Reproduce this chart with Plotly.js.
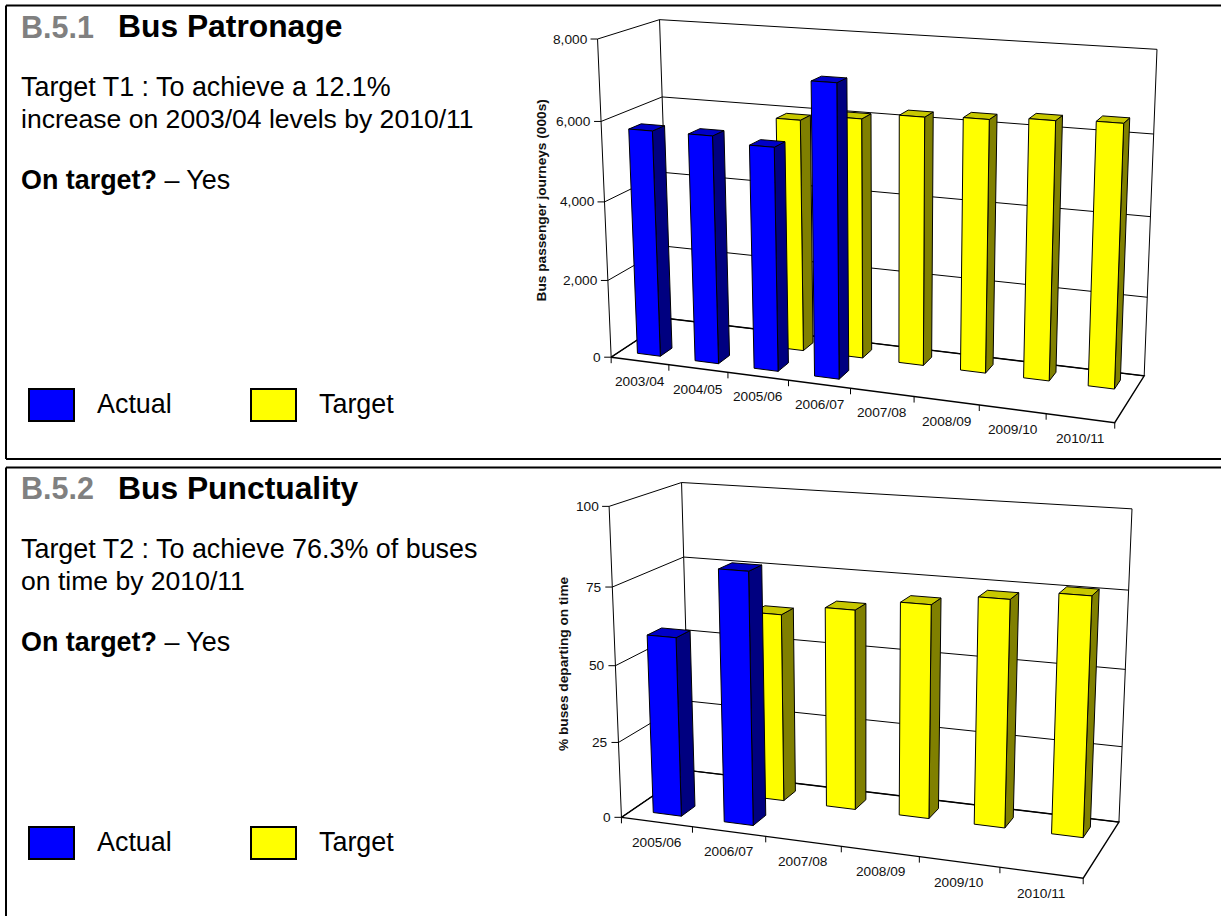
<!DOCTYPE html>
<html>
<head>
<meta charset="utf-8">
<script src="https://cdn.plot.ly/plotly-3.0.1.min.js"></script>
<style>html,body{margin:0;padding:0;background:#fff;overflow:hidden}#chart{width:1221px;height:916px}</style>
</head>
<body>
<div id="chart"></div>
<script>
// Bus patronage (thousand journeys)
const patronageYears = ['2003/04','2004/05','2005/06','2006/07','2007/08','2008/09','2009/10','2010/11'];
const patronageActual = [5750, 5750, 5600, 7250, null, null, null, null];
const patronageTarget = [null, null, 5930, 6080, 6240, 6300, 6390, 6446];
const patronageTicks = [0, 2000, 4000, 6000, 8000];

// Bus punctuality (% departing on time)
const punctualityYears = ['2005/06','2006/07','2007/08','2008/09','2009/10','2010/11'];
const punctualityActual = [58.7, 81.5, null, null, null, null];
const punctualityTarget = [null, 62.5, 66, 69.7, 73.3, 76.3];
const punctualityTicks = [0, 25, 50, 75, 100];

// Perspective calibration: [across, depth, height, screen x, screen y], each of the first three in 0..1
const patronageView = [
  [0,0,0,610.7,356.7],[0,0,.25,607.3,280],[0,0,.5,604.7,201.7],[0,0,.75,601.7,121.7],[0,0,1,598.3,39.3],
  [0,1,0,670,319],[0,1,.25,668,246],[0,1,.5,666,172.7],[0,1,.75,661,97],[0,1,1,658.3,19.3],
  [1,1,0,1144,375.7],[1,1,.25,1147.3,297.7],[1,1,.5,1150,216.7],[1,1,.75,1153.7,134],[1,1,1,1157.3,49.3],
  [.125,0,0,668.3,365],[.25,0,0,727.7,372.7],[.375,0,0,788.3,380.7],[.5,0,0,850.7,389],
  [.625,0,0,914,396],[.75,0,0,979.3,404.7],[.875,0,0,1046.3,413.7],[1,0,0,1115,422.3]
];
const punctualityView = [
  [0,0,0,621.3,817],[0,0,.25,618.7,742.3],[0,0,.5,615.7,665.7],[0,0,.75,612.3,587],[0,0,1,608.7,506.3],
  [0,1,0,689.5,770.4],[0,1,.75,683.7,557],[0,1,1,681.7,482.7],
  [1,1,0,1119,822.3],[1,1,.25,1122,746.7],[1,1,.5,1125.3,669.3],[1,1,.75,1128.7,590],[1,1,1,1132,509],
  [1/6,0,0,692.7,827.3],[2/6,0,0,765.7,836.7],[3/6,0,0,841.3,846.7],[4/6,0,0,919.3,856],[5/6,0,0,999.7,867],[1,0,0,1083.3,878.3]
];

const W = 1221, H = 916;
const FONT = 'Liberation Sans, Arial, sans-serif';
const ROW_ACTUAL = [0.15, 0.35];
const ROW_TARGET = [0.65, 0.85];
const BLUE = {front:'#0000ff', side:'#000080', top:'#0000c8'};
const YELLOW = {front:'#ffff00', side:'#808000', top:'#c8c800'};

// Least-squares fit of a 3x4 projection matrix with the last entry fixed at 1.
function fitProjection(samples) {
  const N = 11, A = Array.from({length:N}, () => new Array(N + 1).fill(0));
  const add = (row, rhs) => {
    for (let i = 0; i < N; i++) {
      for (let j = 0; j < N; j++) A[i][j] += row[i] * row[j];
      A[i][N] += row[i] * rhs;
    }
  };
  samples.forEach(([X, Y, Z, u0, v0]) => {
    const u = u0 / 1000, v = v0 / 1000;
    add([X, Y, Z, 1, 0, 0, 0, 0, -u * X, -u * Y, -u * Z], u);
    add([0, 0, 0, 0, X, Y, Z, 1, -v * X, -v * Y, -v * Z], v);
  });
  for (let c = 0; c < N; c++) {
    let best = c;
    for (let r = c + 1; r < N; r++) if (Math.abs(A[r][c]) > Math.abs(A[best][c])) best = r;
    [A[c], A[best]] = [A[best], A[c]];
    for (let r = 0; r < N; r++) {
      if (r === c) continue;
      const f = A[r][c] / A[c][c];
      for (let k = c; k <= N; k++) A[r][k] -= f * A[c][k];
    }
  }
  const p = A.map((row, i) => row[N] / row[i]);
  return (X, Y, Z) => {
    const w = p[8] * X + p[9] * Y + p[10] * Z + 1;
    return [1000 * (p[0] * X + p[1] * Y + p[2] * Z + p[3]) / w,
            1000 * (p[4] * X + p[5] * Y + p[6] * Z + p[7]) / w];
  };
}

const traces = [], annotations = [];

function polyline(xa, ya, pts, width, color) {
  const x = [], y = [];
  pts.forEach(seg => { seg.forEach(q => { x.push(q[0]); y.push(q[1]); }); x.push(null); y.push(null); });
  traces.push({type:'scatter', mode:'lines', xaxis:xa, yaxis:ya, x, y, showlegend:false, hoverinfo:'skip',
               line:{color, width}});
}

function barSeries(xa, ya, name, project, values, vmax, row, colors) {
  const n = values.length, faces = {side:[], top:[], front:[]};
  values.forEach((val, i) => {
    if (val === null) return;
    const x0 = (i + .3) / n, x1 = (i + .7) / n, h = val / vmax, [d0, d1] = row;
    faces.side.push([[x1,d0,0],[x1,d1,0],[x1,d1,h],[x1,d0,h],[x1,d0,0]]);
    faces.top.push([[x0,d0,h],[x1,d0,h],[x1,d1,h],[x0,d1,h],[x0,d0,h]]);
    faces.front.push([[x0,d0,0],[x1,d0,0],[x1,d0,h],[x0,d0,h],[x0,d0,0]]);
  });
  ['side','top','front'].forEach(key => {
    const x = [], y = [];
    faces[key].forEach(poly => {
      poly.forEach(q => { const s = project(q[0], q[1], q[2]); x.push(s[0]); y.push(s[1]); });
      x.push(null); y.push(null);
    });
    traces.push({type:'scatter', mode:'lines', fill:'toself', fillcolor:colors[key], name, xaxis:xa, yaxis:ya,
                 x, y, showlegend:false, hoverinfo:'skip', line:{color:'#000', width:1}});
  });
}

function label(xa, ya, x, y, text, xanchor, extra) {
  annotations.push(Object.assign({xref:xa, yref:ya, x, y, text, xanchor, yanchor:'middle', showarrow:false,
    borderpad:0, font:{family:FONT, size:13.7, color:'#111'}}, extra || {}));
}

function drawChart(xa, ya, view, years, actual, target, ticks, axisTitle, titleX, titleY) {
  const project = fitProjection(view), n = years.length, vmax = ticks[ticks.length - 1];
  const P = project;
  const grid = [];
  ticks.forEach(t => { const h = t / vmax; grid.push([P(0,0,h), P(0,1,h), P(1,1,h)]); });
  grid.push([P(0,0,0), P(0,0,1)], [P(0,1,0), P(0,1,1)], [P(1,1,0), P(1,1,1)]);
  polyline(xa, ya, grid, 1, '#000');
  const floor = [[P(0,0,0), P(0,1,0), P(1,1,0), P(1,0,0), P(0,0,0)]];
  polyline(xa, ya, floor, 1.4, '#000');

  // Axis tick marks on the near edges
  const marks = [];
  ticks.forEach(t => { const q = P(0, 0, t / vmax); marks.push([[q[0] - 7, q[1]], q]); });
  for (let i = 0; i <= n; i++) { const q = P(i / n, 0, 0); marks.push([q, [q[0], q[1] + 6]]); }
  polyline(xa, ya, marks, 1, '#000');

  barSeries(xa, ya, 'Target', P, target, vmax, ROW_TARGET, YELLOW);
  barSeries(xa, ya, 'Actual', P, actual, vmax, ROW_ACTUAL, BLUE);

  ticks.forEach(t => {
    const q = P(0, 0, t / vmax);
    label(xa, ya, q[0] - 9, q[1], t.toLocaleString('en-GB'), 'right');
  });
  years.forEach((yr, i) => {
    const q = P((i + .5) / n, 0, 0);
    label(xa, ya, q[0], q[1] + 20.5, yr, 'center');
  });
  label(xa, ya, titleX, titleY, '<b>' + axisTitle + '</b>', 'center', {textangle:-90});
}

drawChart('x', 'y', patronageView, patronageYears, patronageActual, patronageTarget, patronageTicks,
          'Bus passenger journeys (000s)', 541, 200.5);
drawChart('x2', 'y2', punctualityView, punctualityYears, punctualityActual, punctualityTarget, punctualityTicks,
          '% buses departing on time', 563, 664);

// Text panels on the left, positioned in page pixels
function pageText(x, baseline, text, size, color, bold) {
  annotations.push({xref:'paper', yref:'paper', x:x / W, y:1 - (baseline - size * 0.36) / H,
    text: bold ? '<b>' + text + '</b>' : text, xanchor:'left', yanchor:'middle', showarrow:false, borderpad:0,
    font:{family:FONT, size, color}});
}
function panelText(dy, code, heading, lines) {
  pageText(19.5, 37.5 + dy, code, 30.5, '#808080', true);
  pageText(117, 37.5 + dy, heading, 31.8, '#000', true);
  pageText(20, 97 + dy, lines[0], 26.9, '#000');
  pageText(20, 129 + dy, lines[1], 26.55, '#000');
  pageText(20, 190 + dy, '<b>On target?</b> \u2013 Yes', 26.9, '#000');
  pageText(96, 414 + dy - (dy ? 24.3 : 0), 'Actual', 26.9, '#000');
  pageText(318, 414 + dy - (dy ? 24.3 : 0), 'Target', 26.9, '#000');
}
panelText(0, 'B.5.1', 'Bus Patronage',
          ['Target T1 : To achieve a 12.1%', 'increase on 2003/04 levels by 2010/11']);
panelText(461.6, 'B.5.2', 'Bus Punctuality',
          ['Target T2 : To achieve 76.3% of buses', 'on time by 2010/11']);

function pageLine(x0, y0, x1, y1, width) {
  return {type:'line', xref:'paper', yref:'paper', x0:x0 / W, x1:x1 / W, y0:1 - y0 / H, y1:1 - y1 / H,
          line:{color:'#000', width}};
}
function swatch(x0, y0, x1, y1, fill) {
  return {type:'rect', xref:'paper', yref:'paper', x0:x0 / W, x1:x1 / W, y0:1 - y0 / H, y1:1 - y1 / H,
          fillcolor:fill, line:{color:'#000', width:2}};
}
const shapes = [
  pageLine(6, 5.5, W, 5.5, 2), pageLine(6, 5.5, 6, 459, 2), pageLine(6, 459, W, 459, 2),
  pageLine(6, 467.5, W, 467.5, 2), pageLine(6, 467.5, 6, H, 2),
  swatch(29, 389, 74, 421, BLUE.front), swatch(251, 389, 296, 421, YELLOW.front),
  swatch(29, 827, 74, 859, BLUE.front), swatch(251, 827, 296, 859, YELLOW.front)
];

const hidden = {visible:false, fixedrange:true};
const layout = {
  width:W, height:H, autosize:false, margin:{l:0, r:0, t:0, b:0, pad:0},
  paper_bgcolor:'#fff', plot_bgcolor:'rgba(0,0,0,0)', showlegend:false,
  xaxis: Object.assign({domain:[520 / W, 1], range:[520, W], anchor:'y'}, hidden),
  yaxis: Object.assign({domain:[1 - 460 / H, 1], range:[460, 0], anchor:'x'}, hidden),
  xaxis2: Object.assign({domain:[520 / W, 1], range:[520, W], anchor:'y2'}, hidden),
  yaxis2: Object.assign({domain:[0, 1 - 460 / H], range:[H, 460], anchor:'x2'}, hidden),
  annotations, shapes
};
Plotly.newPlot('chart', traces, layout, {displayModeBar:false, staticPlot:true});
</script>
</body>
</html>
